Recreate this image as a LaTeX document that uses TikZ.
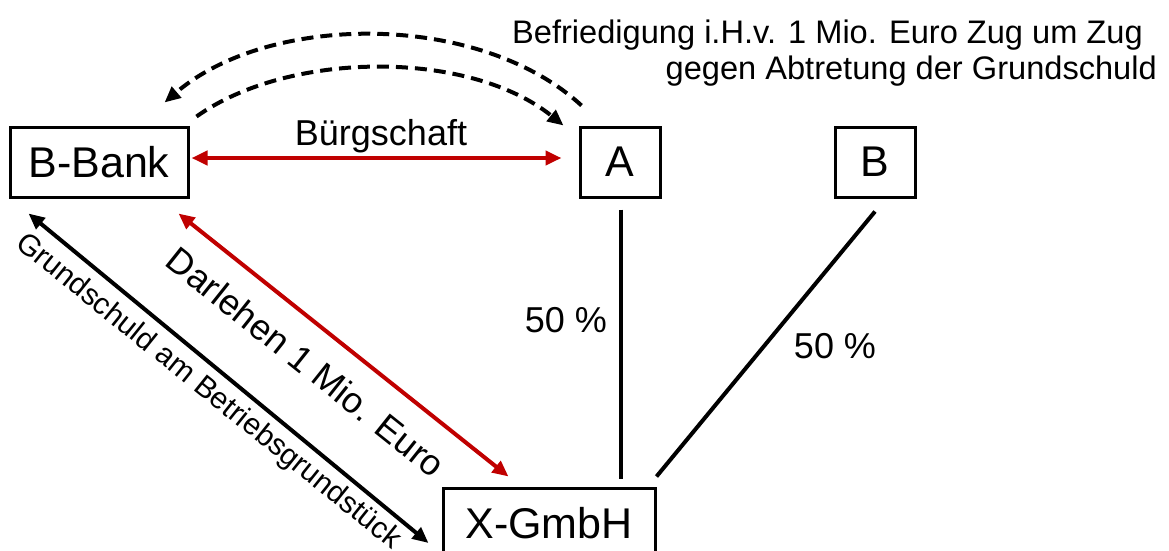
\documentclass[tikz,border=0pt]{standalone}
\usepackage{fontspec}
\setmainfont{Liberation Sans}
\usetikzlibrary{arrows.meta,calc}
\definecolor{dred}{HTML}{C00000}
\tikzset{
  box/.style={draw,line width=3pt,inner sep=0pt,font=\fontsize{43}{50}\selectfont},
  lab/.style={inner sep=0pt,font=\fontsize{36}{42}\selectfont},
  onetip/.style={-{Triangle[length=16pt,width=14pt]}},
  twotips/.style={{Triangle[length=16pt,width=14pt]}-{Triangle[length=16pt,width=14pt]}},
  conn/.style={line width=4pt},
  dashline/.style={line width=4pt,dash pattern=on 12pt off 7pt},
}
\begin{document}
\begin{tikzpicture}[x=1pt,y=-1pt]
\useasboundingbox (0,0) rectangle (1169,550);
\node[box,minimum width=178pt,minimum height=70pt] (bank) at (99,162) {B-Bank};
\node[box,minimum width=80pt,minimum height=70pt] (a) at (620,162) {A};
\node[box,minimum width=80pt,minimum height=70pt] (b) at (875,162) {B};
\node[box,minimum width=212pt,minimum height=70pt] (x) at (549,523) {X-GmbH};
% top text
\node[anchor=base west,inner sep=0pt,font=\fontsize{32.6}{36}\selectfont] (t1) at (512,43) {Befriedigung i.H.v. 1 Mio. Euro Zug um Zug};
\node[anchor=base east,inner sep=0pt,font=\fontsize{32.6}{36}\selectfont] (t2) at (1157,79) {gegen Abtretung der Grundschuld};
% connectors
\draw[conn,dred,twotips] ($(bank.east)+(2,-4)$) -- ($(a.west)+(-17,-4)$);
\node[lab,anchor=base] (bl) at (381,145) {Bürgschaft};
\draw[conn,dred,twotips] ($(bank.south east)+(-11,15)$) -- ($(x.north west)+(67,-10)$);
\draw[conn,twotips] ($(bank.south west)+(20,15)$) -- ($(x.west)+(-13,20)$);
\draw[conn] ($(a.south)+(1,11)$) -- ($(a.south |- x.north)+(1,-8)$);
\draw[conn] ($(b.south)+(0,13)$) -- ($(x.north east)+(0,-10)$);
\node[lab] (p1) at (566,320) {50 \%};
\node[lab] (p2) at (835,346) {50 \%};
\node[lab,rotate=-38.6] (dl) at (306,362) {Darlehen 1 Mio. Euro};
\node[inner sep=0pt,font=\fontsize{30}{36}\selectfont,rotate=-38.8] (gl) at (208,392) {Grundschuld am Betriebsgrundstück};
% dashed arcs
\draw[dashline,onetip] ($(a.north west)+(3,-20)$) .. controls (480,12) and (270,12) .. ($(bank.north east)+(-25,-23)$);
\draw[dashline,onetip] ($(bank.north east)+(7,-9)$) .. controls (290,50) and (470,50) .. ($(a.north west)+(-15,0)$);
\end{tikzpicture}
\end{document}
